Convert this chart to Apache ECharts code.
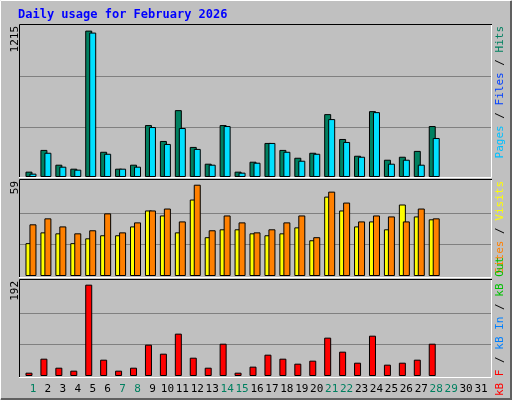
<!DOCTYPE html>
<html><head><meta charset="utf-8">
<script src="https://cdn.jsdelivr.net/npm/echarts@6/dist/echarts.min.js"></script>
<style>html,body{margin:0;padding:0;background:#C0C0C0}#c{width:512px;height:400px}</style>
</head><body><div id="c"></div>
<script>
const days = Array.from({length:31},(_,i)=>String(i+1));
const weekend = ['1','7','8','14','15','21','22','28','29'];
const hits = [43,218,99,67,1178,203,67,99,418,290,538,242,107,418,43,123,274,218,155,195,506,306,171,530,139,163,210,410];
const pages = [27,195,83,59,1162,187,67,83,402,266,394,226,99,410,35,115,274,203,131,187,466,282,163,522,107,139,99,314];
const visits = [20.4,27.1,26.5,20.4,23.4,25.3,25.3,30.8,40.7,37.6,27.1,47.5,24.1,29,29,26.5,25.3,26.5,30.2,22.2,49.3,40.7,30.8,33.9,29,44.4,37,35.2];
const sites = [32.1,35.8,30.8,26.5,28.4,38.9,27.1,33.3,40.7,41.9,33.9,56.7,28.4,37.6,33.3,27.1,29,33.3,37.6,24.1,52.4,45.6,33.9,37.6,37,33.9,41.9,35.8];
const kbytes = [6.7,35,16.8,10.8,184.6,33,10.8,16.8,63.3,45.1,85.6,37,16.8,65.3,6.7,18.9,43.1,35,24.9,31,77.5,49.2,26.9,81.5,22.9,26.9,33,65.3];
const zeros = kbytes.map(()=>0);
const maxTop=1215, maxMid=59, maxBot=192;

const chart = echarts.init(document.getElementById('c'));
const mono = 'DejaVu Sans Mono';
const L=25.5, W=463;
const panels=[[26,151],[181,95],[281,95]];
const grids=panels.map(p=>({left:L,width:W,top:p[0],height:p[1]}));
function xa(i,show){return {type:'category',gridIndex:i,data:days,boundaryGap:true,
  axisLine:{show:false},axisTick:{show:false},
  axisLabel:{show:show,interval:0,fontFamily:mono,fontSize:11,margin:8,
    color:(v)=>weekend.includes(v)?'#008060':'#000'}};}
function ya(i,max){return {type:'value',gridIndex:i,min:0,max:max,interval:max/3,
  axisLabel:{show:false},axisLine:{show:false},axisTick:{show:false},splitLine:{show:false}};}
const bs={borderColor:'#000',borderWidth:1};
const hid={color:'transparent',borderWidth:0};
function rot(x,y,align,rich,text){return {type:'text',x:x,y:y,rotation:Math.PI/2,
  style:{text:text,align:align,verticalAlign:'middle',fontFamily:mono,fontSize:11,rich:rich}};}
function bar(ax,data,style,gap){const s={type:'bar',xAxisIndex:ax,yAxisIndex:ax,data:data,barWidth:7,itemStyle:style};if(gap)s.barGap=gap;return s;}
const gridLines=[];
panels.forEach(p=>{for(let k=1;k<3;k++){const y=Math.round(p[0]+p[1]*k/3)+0.5;
  gridLines.push({type:'line',shape:{x1:20,y1:y,x2:491,y2:y},style:{stroke:'#808080',lineWidth:1},z:-1});}});
const frames=[];
[[25,178],[180,278],[280,378]].forEach(f=>{
  frames.push({type:'polyline',shape:{points:[[19.5,f[1]],[19.5,f[0]-0.5],[492,f[0]-0.5]]},style:{stroke:'#000',lineWidth:1,fill:'none'}});
  frames.push({type:'polyline',shape:{points:[[491.5,f[0]],[491.5,f[1]-0.5],[19,f[1]-0.5]]},style:{stroke:'#fff',lineWidth:1,fill:'none'}});
});
chart.setOption({
  animation:false,
  backgroundColor:'#C0C0C0',
  grid:grids,
  xAxis:[xa(0,false),xa(1,false),xa(2,true)],
  yAxis:[ya(0,maxTop),ya(1,maxMid),ya(2,maxBot)],
  series:[
    bar(0,hits,{color:'#008060',...bs},'-43%'),bar(0,pages,{color:'#00E0FF',...bs}),bar(0,zeros,hid),
    bar(1,visits,{color:'#FFFF00',...bs},'-43%'),bar(1,sites,{color:'#FF8000',...bs}),bar(1,zeros,hid),
    bar(2,kbytes,{color:'#FF0000',...bs},'-43%'),bar(2,zeros,hid),bar(2,zeros,hid)
  ],
  graphic:[
    {type:'rect',shape:{x:0.5,y:0.5,width:510,height:398},style:{fill:'none',stroke:'#fff',lineWidth:1},z:-1},
    {type:'polyline',shape:{points:[[511,1],[511,399],[1,399]]},style:{stroke:'#606060',lineWidth:2,fill:'none'}},
    ...gridLines,...frames,
    {type:'text',x:18,y:15,style:{text:'Daily usage for February 2026',fontFamily:mono,fontSize:12,fontWeight:'bold',fill:'#0000FF',verticalAlign:'middle'}},
    {type:'text',x:15,y:26,rotation:Math.PI/2,style:{text:String(maxTop),align:'right',verticalAlign:'middle',fontFamily:mono,fontSize:11,fill:'#000'}},
    {type:'text',x:15,y:181,rotation:Math.PI/2,style:{text:String(maxMid),align:'right',verticalAlign:'middle',fontFamily:mono,fontSize:11,fill:'#000'}},
    {type:'text',x:15,y:281,rotation:Math.PI/2,style:{text:String(maxBot),align:'right',verticalAlign:'middle',fontFamily:mono,fontSize:11,fill:'#000'}},
    rot(500,26,'right',{p:{fill:'#00C0FF'},f:{fill:'#0040FF'},h:{fill:'#008060'},s:{fill:'#000'}},'{p|Pages}{s| / }{f|Files}{s| / }{h|Hits}'),
    rot(500,181,'right',{t:{fill:'#FF8000'},v:{fill:'#FFFF00'},s:{fill:'#000'}},'{t|Sites}{s| / }{v|Visits}'),
    rot(500,396,'left',{a:{fill:'#FF0000'},b:{fill:'#0080FF'},c:{fill:'#00C000'},s:{fill:'#000'}},'{a|kB F}{s| / }{b|kB In}{s| / }{c|kB Out}')
  ]
});
</script></body></html>
